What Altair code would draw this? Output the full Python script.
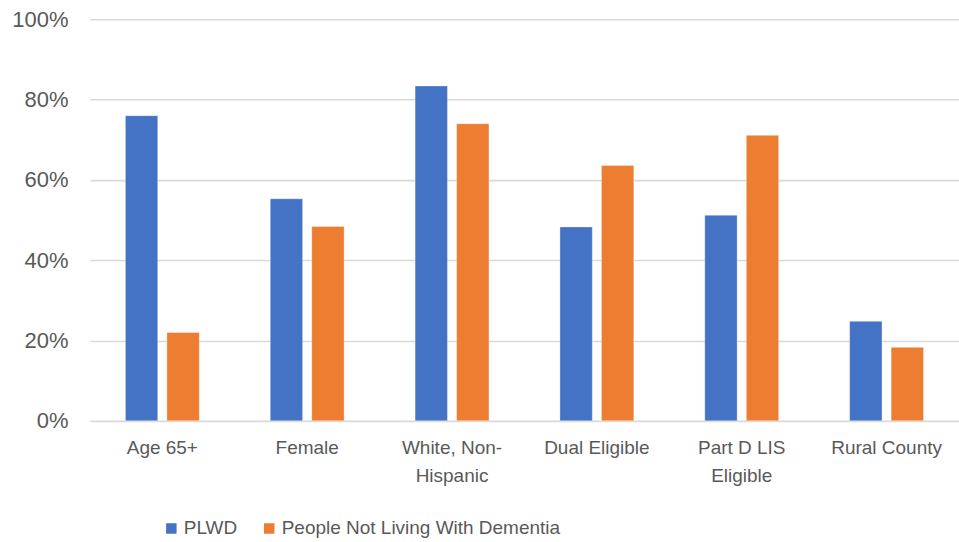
import altair as alt
import pandas as pd

# Share of each population group with the given characteristic
categories = ["Age 65+", "Female", "White, Non-Hispanic", "Dual Eligible",
              "Part D LIS Eligible", "Rural County"]
plwd = [76.0, 55.3, 83.4, 48.3, 51.2, 24.8]
not_plwd = [22.0, 48.4, 74.0, 63.6, 71.1, 18.3]
series = ["PLWD", "People Not Living With Dementia"]
colors = ["#4472C4", "#ED7D31"]

rows = []
for cat, a, b in zip(categories, plwd, not_plwd):
    rows.append({"category": cat, "group": series[0], "value": a / 100})
    rows.append({"category": cat, "group": series[1], "value": b / 100})
df = pd.DataFrame(rows)

font = "Liberation Sans, Arial"

label_expr = (
    "datum.label == 'White, Non-Hispanic' ? ['White, Non-', 'Hispanic'] : "
    "datum.label == 'Part D LIS Eligible' ? ['Part D LIS', 'Eligible'] : datum.label"
)

chart = alt.Chart(df).mark_bar(stroke="white", strokeWidth=0.6, strokeOpacity=0.6).encode(
    x=alt.X("category:N", sort=categories, title=None,
            scale=alt.Scale(paddingInner=0.49, paddingOuter=0.245),
            axis=alt.Axis(labelAngle=0, labelExpr=label_expr, labelFont=font,
                          labelFontSize=19, labelColor="#595959", labelPadding=18,
                          labelLineHeight=28, ticks=False, domain=False, grid=False,
                          labelBaseline="top", labelLimit=300)),
    xOffset=alt.XOffset("group:N", sort=series,
                        scale=alt.Scale(paddingInner=0.22, paddingOuter=0)),
    y=alt.Y("value:Q", title=None,
            scale=alt.Scale(domain=[0, 1], nice=False),
            axis=alt.Axis(format=".0%", values=[0, 0.2, 0.4, 0.6, 0.8, 1.0],
                          labelFont=font, labelFontSize=22,
                          labelColor="#595959", labelPadding=22, ticks=False,
                          domain=False, gridColor="#d9d9d9", gridWidth=1.6)),
    color=alt.Color("group:N", sort=series,
                    scale=alt.Scale(domain=series, range=colors),
                    legend=alt.Legend(title=None, orient="none", direction="horizontal",
                                      legendX=72, legendY=500, symbolType="square",
                                      symbolSize=110, symbolStrokeWidth=0,
                                      labelFont=font, labelFontSize=19, labelLimit=400,
                                      labelColor="#595959", labelOffset=3,
                                      columnPadding=22, symbolOpacity=1)),
).properties(
    width=870,
    height=402,
    autosize=alt.AutoSizeParams(type="none"),
    padding={"left": 90, "top": 19, "right": 0, "bottom": 121},
).configure(background="white").configure_view(stroke=None)

chart.save("out.html", embed_options={"renderer": "svg", "actions": False})
